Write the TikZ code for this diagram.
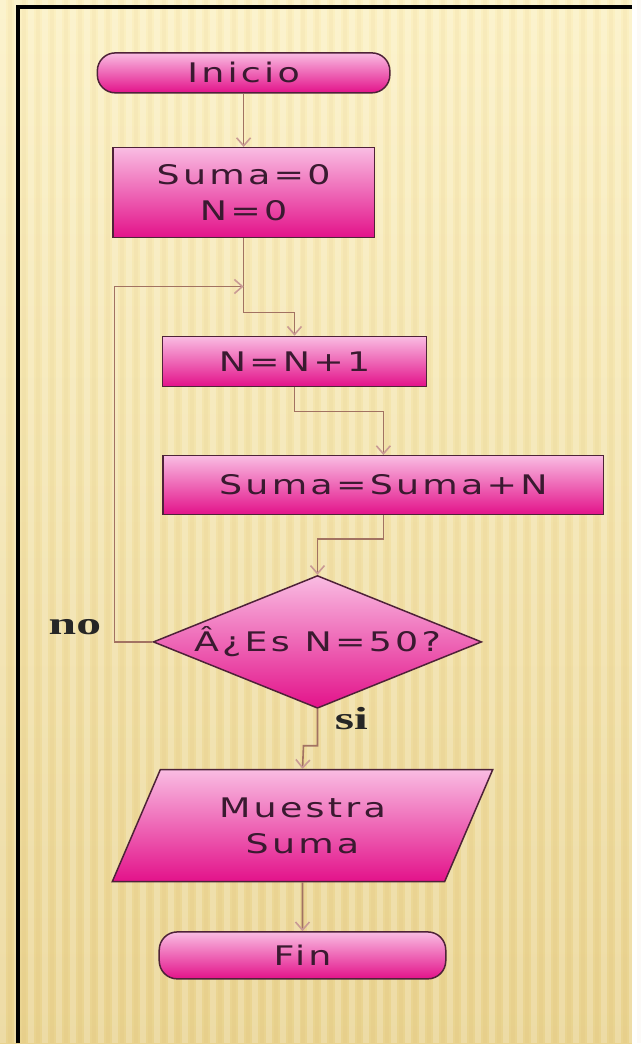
\documentclass[tikz,border=0pt]{standalone}
\usepackage{xcolor}
\usepackage{fontspec}
\usepackage{tikz}
\usetikzlibrary{shapes.geometric, arrows.meta, positioning}

\newfontfamily\chartfont[FakeStretch=1.35,LetterSpace=12]{DejaVu Sans}
\newfontfamily\answerfont[FakeStretch=1.55]{Liberation Serif}

\definecolor{pinktop}{HTML}{F9BCE2}
\definecolor{pinkbot}{HTML}{E3128A}
\definecolor{boxline}{HTML}{4E2238}
\definecolor{boxtext}{HTML}{3A1A30}
\definecolor{linecol}{HTML}{A27262}
\definecolor{tipcol}{HTML}{C99A94}
\definecolor{paperhi}{HTML}{FBF0C2}
\definecolor{paperlo}{HTML}{E9D38F}

\tikzset{
  flowbox/.style={draw=boxline, line width=1.5pt, top color=pinktop, bottom color=pinkbot,
    text=boxtext, font=\chartfont\fontsize{27}{36}\selectfont, align=center, inner sep=0pt},
  termbox/.style={flowbox, rounded corners=18pt},
  flow/.style={draw=linecol, line width=1.6pt,
    -{Straight Barb[length=8pt,width=14pt,line width=1.6pt,color=tipcol]}},
  answer/.style={font=\answerfont\bfseries\fontsize{32}{36}\selectfont, text=black!85}
}

\begin{document}
\begin{tikzpicture}[x=1pt,y=1pt]
  % paper
  \shade[top color=paperhi, bottom color=paperlo] (0,0) rectangle (633,1045);
  \foreach \x in {0,14,...,630} {
    \fill[white, opacity=0.2] (\x,0) rectangle ++(6,1045);
    \fill[brown, opacity=0.04] (\x+8,0) rectangle ++(4,1045);
  }
  \draw[line width=3.5pt] (18,0) -- (18,1038) -- (633,1038);

  \begin{scope}
    \node[termbox, minimum width=293pt, minimum height=40pt] (ini) at (244,972) {Inicio};
    \node[flowbox, minimum width=262pt, minimum height=90pt] (suma0) at (244,852) {Suma=0\\N=0};
    \node[flowbox, minimum width=264pt, minimum height=50pt] (n1) at (295,683) {N=N+1};
    \node[flowbox, minimum width=441pt, minimum height=59pt] (suman) at (384,559) {Suma=Suma+N};
    \node[flowbox, diamond, minimum width=329pt, minimum height=133pt] (cond) at (318,402)
      {\makebox[0pt]{Â¿Es N=50?}};
    \node[flowbox, trapezium, trapezium left angle=49.4, trapezium right angle=130.6,
      trapezium stretches body, minimum width=381pt, minimum height=112pt] (show) at (303,218)
      {Muestra\\Suma};
    \node[termbox, minimum width=287pt, minimum height=47pt] (fin) at (303,88) {Fin};
  \end{scope}

  \node[answer] (no) at (75,417) {no};
  \node[answer] (si) at (352,325) {si};

  \coordinate (k1) at (295,732);
  \coordinate (merge) at (244,758);
  \coordinate (k2) at (384,633);
  \coordinate (k3) at (318,505);
  \coordinate (k4) at (304,298);

  \begin{scope}[every path/.style={flow}]
    \path (ini) edge (suma0);
    \draw (suma0.south) |- (k1) -- (n1.north);
    \draw (n1.south) |- (k2) -- (suman.north);
    \draw (suman.south) |- (k3) -- (cond.north);
    \draw (cond.west) -- ++(-38,0) |- (merge);
    \draw (cond.south) |- (k4) -- (show.north);
    \draw (show.south) -- (fin.north);
  \end{scope}
\end{tikzpicture}
\end{document}
